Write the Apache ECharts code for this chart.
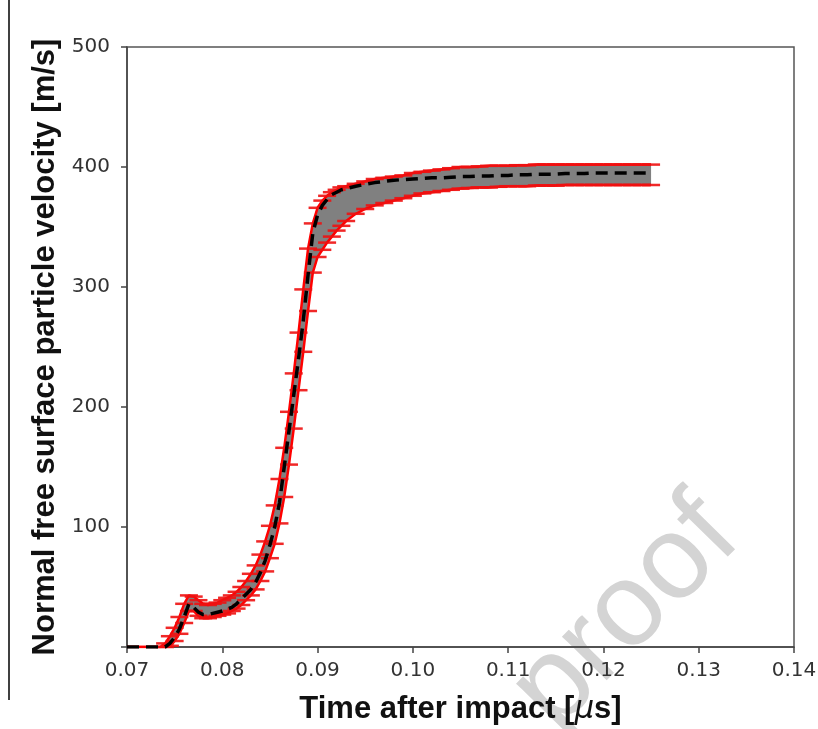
<!DOCTYPE html>
<html>
<head>
<meta charset="utf-8">
<script src="https://cdn.jsdelivr.net/npm/echarts@6/dist/echarts.min.js"></script>
<style>
  html, body { margin: 0; padding: 0; background: #fff; }
  #chart { width: 818px; height: 729px; }
</style>
</head>
<body>
<div id="chart"></div>
<script>
// time after impact [us]
var times = [0.0700, 0.0735, 0.0740, 0.0745, 0.0750, 0.0755, 0.0760, 0.0765, 0.0770, 0.0775,
  0.0780, 0.0785, 0.0790, 0.0795, 0.0800, 0.0805, 0.0810, 0.0815, 0.0820, 0.0825,
  0.0830, 0.0835, 0.0840, 0.0845, 0.0850, 0.0855, 0.0860, 0.0865, 0.0870, 0.0875,
  0.0880, 0.0885, 0.0890, 0.0895, 0.0900, 0.0905, 0.0910, 0.0915, 0.0920, 0.0925,
  0.0930, 0.0940, 0.0950, 0.0960, 0.0970, 0.0980, 0.0990, 0.1000, 0.1010, 0.1020,
  0.1030, 0.1040, 0.1050, 0.1060, 0.1070, 0.1080, 0.1090, 0.1100, 0.1110, 0.1120,
  0.1130, 0.1140, 0.1150, 0.1160, 0.1170, 0.1180, 0.1190, 0.1200, 0.1210, 0.1220,
  0.1230, 0.1240, 0.1250];

// mean velocity [m/s]
var meanVel = [0, 0, 0, 3, 8, 15, 25, 36, 33, 29,
  27, 27, 28, 29, 30, 31.5, 33, 36, 40, 44,
  48, 54, 62, 72, 85, 100, 120, 150, 180, 210,
  240, 272, 310, 345, 360, 368, 373, 377, 379, 381,
  382, 384, 385.5, 387, 388, 389, 389.5, 390, 390.5, 391,
  391, 391.5, 392, 392, 392.5, 392.5, 393, 393, 393.5, 393.5,
  394, 394, 394, 394.5, 394.5, 394.5, 395, 395, 395, 395,
  395, 395, 395];

// upper bound [m/s]
var upperVel = [0, 0, 3, 9, 16, 25, 36, 43, 42, 39,
  36, 35, 36, 37, 39, 41, 43, 46, 50, 55,
  61, 68, 77, 88, 101, 118, 140, 166, 196, 228,
  262, 298, 332, 353, 366, 372, 376, 379, 381, 383,
  384, 386, 388, 390, 391, 392, 393, 395, 396, 397,
  398, 399, 400, 400, 400.5, 401, 401, 401, 401.5, 401.5,
  402, 402, 402, 402, 402, 402, 402, 402, 402, 402,
  402, 402, 402];

// lower bound [m/s]
var lowerVel = [0, 0, 0, 1, 5, 11, 20, 30, 30, 26,
  24, 24, 25, 26, 27, 28, 30, 32, 35, 39,
  43, 48, 55, 63, 74, 86, 103, 125, 152, 182,
  214, 246, 280, 312, 325, 331, 337, 342, 347, 351,
  355, 361, 365, 368, 370, 372, 374, 376, 378, 379,
  380, 381, 382, 382.5, 383, 383, 383.5, 384, 384, 384,
  384.5, 384.5, 384.5, 385, 385, 385, 385, 385, 385, 385,
  385, 385, 385];

var xTicks = [0.07, 0.08, 0.09, 0.10, 0.11, 0.12, 0.13, 0.14];
var yTicks = [100, 200, 300, 400, 500];

var chart = echarts.init(document.getElementById('chart'));

var meanData = times.map(function (t, i) { return [t, meanVel[i]]; });
var upperData = times.map(function (t, i) { return [t, upperVel[i]]; });
var lowerData = times.map(function (t, i) { return [t, lowerVel[i]]; });
var caps = [];
times.forEach(function (t, i) {
  if (upperVel[i] > 0) {
    caps.push([t, upperVel[i]]);
    caps.push([t, lowerVel[i]]);
  }
});

// gray band between lower and upper bound
function renderBand(params, api) {
  var pts = [];
  upperData.forEach(function (d) { pts.push(api.coord(d)); });
  for (var i = lowerData.length - 1; i >= 0; i--) pts.push(api.coord(lowerData[i]));
  return {
    type: 'polygon',
    shape: { points: pts },
    style: { fill: '#808080', stroke: null }
  };
}

chart.setOption({
  animation: false,
  backgroundColor: '#fff',
  grid: {
    left: 127, right: 24, top: 47, bottom: 82,
    outerBoundsMode: 'none',
    show: true, borderColor: '#555', borderWidth: 1.5
  },
  xAxis: {
    type: 'value',
    min: 0.07, max: 0.14, interval: 0.01,
    axisLine: { show: true, onZero: false, lineStyle: { color: '#444', width: 1.5 } },
    axisTick: { show: true, inside: false, length: 6, lineStyle: { color: '#444', width: 1.5 } },
    splitLine: { show: false },
    axisLabel: {
      margin: 14, color: '#333', fontSize: 20, fontFamily: 'DejaVu Sans',
      formatter: function (v) { return xTicks.indexOf(Math.round(v * 100) / 100) >= 0 ? v.toFixed(2) : ''; }
    },
    name: '{b|Time after impact [}{m|μ}{b|s]}',
    nameLocation: 'middle',
    nameGap: 47,
    nameTextStyle: {
      rich: {
        b: { fontSize: 31, fontWeight: 'bold', fontFamily: 'Liberation Sans', color: '#111' },
        m: { fontSize: 31, fontStyle: 'italic', fontFamily: 'DejaVu Sans', color: '#111' }
      }
    }
  },
  yAxis: {
    type: 'value',
    min: 0, max: 500, interval: 100,
    axisLine: { show: true, lineStyle: { color: '#444', width: 1.5 } },
    axisTick: { show: true, inside: false, length: 6, lineStyle: { color: '#444', width: 1.5 } },
    splitLine: { show: false },
    axisLabel: {
      margin: 17, color: '#333', fontSize: 20, fontFamily: 'DejaVu Sans',
      formatter: function (v) { return yTicks.indexOf(v) >= 0 ? String(v) : ''; }
    },
    name: 'Normal free surface particle velocity [m/s]',
    nameLocation: 'middle',
    nameGap: 66,
    nameTextStyle: { fontSize: 31, fontWeight: 'bold', fontFamily: 'Liberation Sans', color: '#111' }
  },
  graphic: [
    {
      type: 'line', z: 100,
      shape: { x1: 9, y1: 0, x2: 9, y2: 700 },
      style: { stroke: '#000', lineWidth: 1.5 }
    },
    {
      type: 'text', z: -10, silent: true,
      x: 626, y: 614, rotation: 0.796,
      style: {
        text: 'proof', fill: '#d4d4d4', fontSize: 118,
        fontFamily: 'Liberation Sans', align: 'center', verticalAlign: 'middle'
      }
    }
  ],
  series: [
    {
      name: 'band',
      type: 'custom',
      renderItem: renderBand,
      data: [0],
      z: 1
    },
    {
      name: 'lower',
      type: 'line',
      data: lowerData,
      symbol: 'none',
      lineStyle: { color: '#ff0000', width: 2.5 },
      z: 2
    },
    {
      name: 'upper',
      type: 'line',
      data: upperData,
      symbol: 'none',
      lineStyle: { color: '#ff0000', width: 2.5 },
      z: 2
    },
    {
      name: 'caps',
      type: 'scatter',
      data: caps,
      symbol: 'rect',
      symbolSize: [18, 2.5],
      itemStyle: { color: '#ee1111', opacity: 0.9 },
      z: 3
    },
    {
      name: 'mean',
      type: 'line',
      data: meanData,
      symbol: 'none',
      lineStyle: { color: '#000', width: 3.5, type: [12, 7] },
      z: 4
    }
  ]
});
</script>
</body>
</html>
